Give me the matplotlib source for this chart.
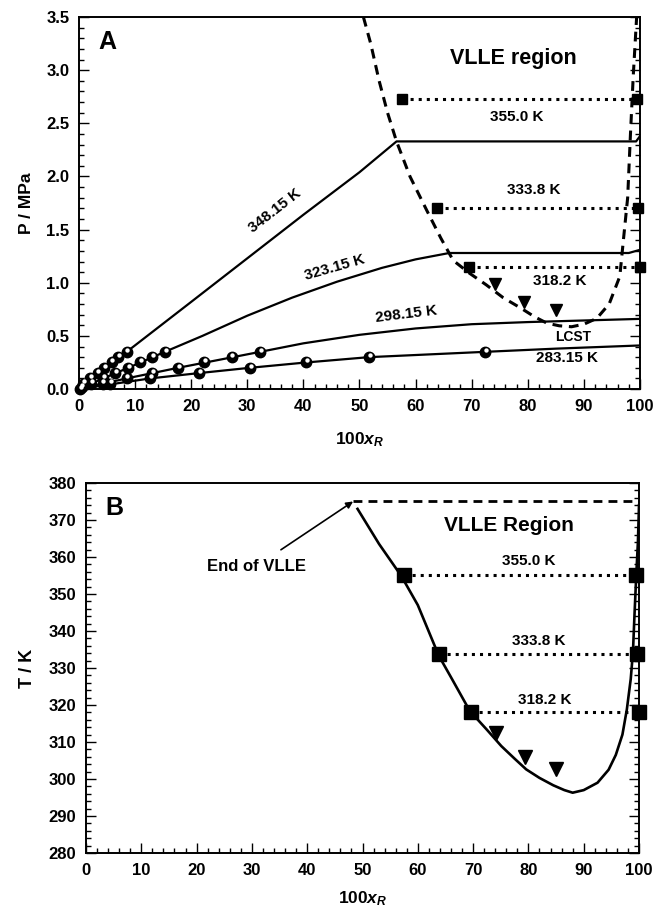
import numpy as np
import matplotlib
matplotlib.use('Agg')
import matplotlib.pyplot as plt
from matplotlib.ticker import MultipleLocator
from matplotlib.transforms import offset_copy

plt.rcParams['font.family'] = ['Liberation Sans', 'DejaVu Sans']
plt.rcParams['font.weight'] = 'bold'
plt.rcParams['mathtext.fontset'] = 'custom'
plt.rcParams['mathtext.rm'] = 'Liberation Sans:bold'
plt.rcParams['mathtext.it'] = 'Liberation Sans:bold:italic'
plt.rcParams['mathtext.bf'] = 'Liberation Sans:bold'

# ---- panel A: model isotherms (P vs 100x_R)
iso_348_x = [0, 8.5, 20, 30, 40, 50, 56.6, 99.3, 100]
iso_348_p = [0, 0.35, 0.82, 1.23, 1.64, 2.04, 2.33, 2.33, 2.38]
iso_323_x = [0, 4.3, 8.8, 15.3, 22, 30, 38, 46, 54, 60, 66, 98, 100]
iso_323_p = [0, 0.10, 0.20, 0.35, 0.50, 0.69, 0.86, 1.01, 1.14, 1.22, 1.28, 1.28, 1.31]
iso_298_x = [0, 8.5, 17.7, 32.3, 40, 50, 60, 70, 80, 90, 100]
iso_298_p = [0, 0.10, 0.20, 0.35, 0.43, 0.51, 0.57, 0.61, 0.63, 0.645, 0.66]
iso_283_x = [0, 12.7, 21.4, 30.5, 40.5, 51.7, 60, 72.4, 85, 100]
iso_283_p = [0, 0.10, 0.15, 0.20, 0.25, 0.30, 0.32, 0.35, 0.38, 0.41]

# experimental VLE points
exp_p = [0.05, 0.10, 0.15, 0.20, 0.25, 0.30, 0.35]
exp_348_x = [0.7, 2.0, 3.3, 4.5, 5.8, 7.0, 8.5]
exp_323_x = [2.2, 4.3, 6.4, 8.8, 10.9, 13.0, 15.3]
exp_298_x = [4.2, 8.5, 13.1, 17.7, 22.3, 27.2, 32.3]
exp_283_x = [5.5, 12.7, 21.4, 30.5, 40.5, 51.7, 72.4]
exp_origin_x = [0.2, 0.5]
exp_origin_p = [0.0, 0.02]

# VLLE envelope (dashed)
env_x = [50.7, 52.0, 53.5, 55.0, 56.6, 59.0, 62.0, 64.5, 66.7, 69.6, 72.6, 75.6,
         78.8, 81.2, 83.4, 85.6, 87.8, 90.0, 92.3, 94.5, 96.4, 97.0, 97.8, 98.3,
         98.8, 99.4]
env_p = [3.50, 3.25, 2.90, 2.60, 2.33, 2.00, 1.68, 1.42, 1.21, 1.09, 0.98, 0.86,
         0.76, 0.68, 0.62, 0.595, 0.586, 0.61, 0.665, 0.80, 1.06, 1.38, 1.80, 2.40,
         2.95, 3.50]

# VLLE tie lines (squares) and LLE triangles
tie_T = [355.0, 333.8, 318.2]
tie_left = [57.5, 63.8, 69.6]
tie_right = [99.4, 99.6, 100.0]
tie_p = [2.73, 1.70, 1.15]
tri_x = [74.2, 79.4, 85.0]
tri_p = [0.99, 0.82, 0.74]
tri_T = [312.5, 305.9, 302.6]

# ---- panel B: T vs 100x_R
bnd_x = [49.1, 53.0, 57.0, 60.0, 63.8, 66.0, 69.4, 72.5, 75.1, 77.5, 79.6, 82.0,
         84.5, 86.5, 88.0, 90.0, 92.5, 94.5, 95.8, 97.0, 97.8, 98.5, 98.9, 99.2,
         99.5, 99.8, 100.0]
bnd_T = [373.0, 363.5, 354.9, 347.0, 333.3, 327.5, 318.4, 313.3, 308.9, 305.5,
         302.6, 300.3, 298.3, 297.0, 296.3, 297.0, 299.0, 302.5, 306.5, 312.0,
         318.8, 327.0, 334.2, 345.0, 355.0, 364.0, 374.0]
end_T = 375.0
end_x = [48.3, 100.0]

fig = plt.figure(figsize=(6.55, 9.13), dpi=100)
axA = fig.add_axes([0.1206, 0.5739, 0.8565, 0.4074])
axB = fig.add_axes([0.1313, 0.0657, 0.8443, 0.4053])

lab_fs = 11


def style_axis(ax):
    for s in ax.spines.values():
        s.set_linewidth(1.4)
    ax.tick_params(which='both', direction='in', top=False, right=True,
                   labelsize=12, width=1.0)
    ax.tick_params(which='major', length=7, pad=7)
    ax.tick_params(which='minor', length=3.5)
    for lab in ax.get_xticklabels() + ax.get_yticklabels():
        lab.set_fontweight('bold')


def sphere(ax, x, y, ms):
    # dark ball with a small white highlight
    ax.plot(x, y, 'o', color='black', ms=ms, zorder=5, clip_on=False)
    tr = offset_copy(ax.transData, fig=fig, x=0.5, y=1.6, units='points')
    ax.plot(x, y, 'o', color='white', ms=ms * 0.42, mew=0, zorder=6,
            transform=tr, clip_on=False)


# ---------- A
ax = axA
ax.plot(iso_348_x, iso_348_p, 'k-', lw=1.6)
ax.plot(iso_323_x, iso_323_p, 'k-', lw=1.6)
ax.plot(iso_298_x, iso_298_p, 'k-', lw=1.6)
ax.plot(iso_283_x, iso_283_p, 'k-', lw=1.6)
ax.plot(env_x, env_p, 'k--', lw=2.2, dashes=(3.2, 2.2))
for xs in (exp_348_x, exp_323_x, exp_298_x, exp_283_x):
    sphere(ax, xs, exp_p, 7.5)
sphere(ax, exp_origin_x, exp_origin_p, 7.5)
for xl, xr, p in zip(tie_left, tie_right, tie_p):
    ax.plot([xl, xr], [p, p], 'k:', lw=2.2)
    ax.plot([xl, xr], [p, p], 's', color='black', ms=7, clip_on=False, zorder=7)
ax.plot(tri_x, tri_p, 'v', color='black', ms=8, zorder=7)

ax.text(34.9, 1.68, '348.15 K', rotation=38, ha='center', va='center', fontsize=lab_fs, fontweight='bold')
ax.text(45.6, 1.14, '323.15 K', rotation=16, ha='center', va='center', fontsize=lab_fs, fontweight='bold')
ax.text(58.4, 0.705, '298.15 K', rotation=7, ha='center', va='center', fontsize=lab_fs, fontweight='bold')
ax.text(86.9, 0.29, '283.15 K', ha='center', va='center', fontsize=lab_fs, fontweight='bold')
ax.text(88.0, 0.49, 'LCST', ha='center', va='center', fontsize=10, fontweight='bold')
ax.text(78.0, 2.56, '355.0 K', ha='center', va='center', fontsize=lab_fs, fontweight='bold')
ax.text(81.0, 1.87, '333.8 K', ha='center', va='center', fontsize=lab_fs, fontweight='bold')
ax.text(85.7, 1.02, '318.2 K', ha='center', va='center', fontsize=lab_fs, fontweight='bold')
ax.text(77.4, 3.11, 'VLLE region', ha='center', va='center', fontsize=15.5, fontweight='bold')
ax.text(0.035, 0.965, 'A', transform=ax.transAxes, ha='left', va='top', fontsize=18, fontweight='bold')

ax.set_xlim(0, 100)
ax.set_ylim(0, 3.5)
ax.xaxis.set_major_locator(MultipleLocator(10))
ax.xaxis.set_minor_locator(MultipleLocator(2))
ax.yaxis.set_major_locator(MultipleLocator(0.5))
ax.yaxis.set_minor_locator(MultipleLocator(0.1))
ax.yaxis.set_major_formatter(matplotlib.ticker.FormatStrFormatter('%.1f'))
ax.set_xlabel('100$x_R$', fontsize=12.5, fontweight='bold', labelpad=12)
ax.set_ylabel('P / MPa', fontsize=12.5, fontweight='bold', labelpad=9)
style_axis(ax)

# ---------- B
ax = axB
ax.plot(bnd_x, bnd_T, 'k-', lw=1.9)
ax.plot(end_x, [end_T, end_T], 'k--', lw=2.0, dashes=(3.2, 2.2))
for xl, xr, t in zip(tie_left, tie_right, tie_T):
    ax.plot([xl, xr], [t, t], 'k:', lw=2.2)
    ax.plot([xl, xr], [t, t], 's', color='black', ms=10, clip_on=False, zorder=7)
ax.plot(tri_x, tri_T, 'v', color='black', ms=10, zorder=7)
ax.annotate('End of VLLE', xy=(end_x[0], end_T), xytext=(30.8, 357.5),
            ha='center', va='center', fontsize=12, fontweight='bold',
            arrowprops=dict(arrowstyle='-|>', color='black', lw=1.2,
                            mutation_scale=10, shrinkA=8, shrinkB=0))
ax.text(76.5, 368.5, 'VLLE Region', ha='center', va='center', fontsize=15, fontweight='bold')
ax.text(80.0, 359.0, '355.0 K', ha='center', va='center', fontsize=lab_fs, fontweight='bold')
ax.text(81.9, 337.3, '333.8 K', ha='center', va='center', fontsize=lab_fs, fontweight='bold')
ax.text(83.0, 321.3, '318.2 K', ha='center', va='center', fontsize=lab_fs, fontweight='bold')
ax.text(0.035, 0.965, 'B', transform=ax.transAxes, ha='left', va='top', fontsize=18, fontweight='bold')

ax.set_xlim(0, 100)
ax.set_ylim(280, 380)
ax.xaxis.set_major_locator(MultipleLocator(10))
ax.xaxis.set_minor_locator(MultipleLocator(2))
ax.yaxis.set_major_locator(MultipleLocator(10))
ax.yaxis.set_minor_locator(MultipleLocator(2))
ax.set_xlabel('100$x_R$', fontsize=12.5, fontweight='bold', labelpad=8)
ax.set_ylabel('T / K', fontsize=13, fontweight='bold', labelpad=9)
style_axis(ax)

fig.savefig('out.png', dpi=100)
